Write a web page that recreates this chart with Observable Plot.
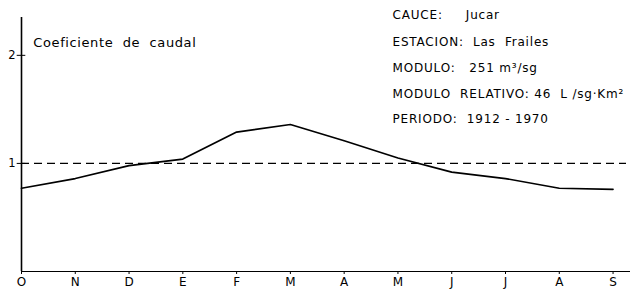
<!DOCTYPE html>
<html><head><meta charset="utf-8">
<script src="https://cdn.jsdelivr.net/npm/d3@7"></script>
<script src="https://cdn.jsdelivr.net/npm/@observablehq/plot@0.6"></script>
<style>body{margin:0;background:#fff;} svg{display:block;}</style>
</head><body><div id="chart"></div>
<script>
const months = ["O","N","D","E","F","M","A","M","J","J","A","S"];
const coef = [0.77,0.86,0.98,1.04,1.29,1.36,1.21,1.05,0.92,0.86,0.77,0.76];
const yTicks = [1,2];
const titleText = "Coeficiente  de  caudal";
const infoLines = ["CAUCE:     Jucar","ESTACION:  Las  Frailes","MODULO:   251 m³/sg","MODULO  RELATIVO: 46  L /sg·Km²","PERIODO:  1912 - 1970"];
const infoY = [2.37,2.12,1.88,1.64,1.41];

const data = coef.map((v,i)=>({i, v}));
const monthIdx = months.map((m,i)=>i);
const font = "'DejaVu Sans', sans-serif";
const plot = Plot.plot({
  width: 630, height: 292,
  marginLeft: 21, marginRight: 4, marginTop: 17, marginBottom: 21,
  style: {fontFamily: font, fontSize: "11px", color: "#000", background: "#fff"},
  x: {domain: [0, 11.25]},
  y: {domain: [0, 2.35]},
  marks: [
    Plot.axisX(monthIdx, {tickFormat: i=>months[i], tickSize: 3, tickPadding: 3, fontSize: 12, label: null}),
    Plot.axisY(yTicks, {tickFormat: d=>String(d), tickSize: 0, tickPadding: 6, fontSize: 11.5, label: null}),
    Plot.ruleX([0], {y1: 0, y2: 2.35, stroke: "#000", strokeWidth: 1.6}),
    Plot.ruleY([0], {x1: 0, x2: 11.4, stroke: "#000", strokeWidth: 1.2}),
    Plot.ruleY(yTicks, {x1: -0.08, x2: 0.08, stroke: "#000", strokeWidth: 1}),
    Plot.ruleY([1], {x1: 0, x2: 11.25, stroke: "#000", strokeWidth: 1.1, strokeDasharray: "8,5"}),
    Plot.line(data, {x: "i", y: "v", stroke: "#000", strokeWidth: 1.7}),
    Plot.text([titleText], {x: 0.22, y: 2.12, text: d=>d, textAnchor: "start", fontSize: 13, fill:"#000"}),
    Plot.text(infoLines.map((t,k)=>({t, y: infoY[k]})), {x: 6.9, y: "y", text: "t", textAnchor: "start", fontSize: 12, fill:"#000"})
  ]
});
d3.select(plot).selectAll("text").each(function(){
  const t = this.textContent;
  if (t === titleText) this.setAttribute("letter-spacing", "0.6");
  else if (infoLines.includes(t)) this.setAttribute("letter-spacing", "0.8");
});
document.getElementById("chart").append(plot);
</script></body></html>
